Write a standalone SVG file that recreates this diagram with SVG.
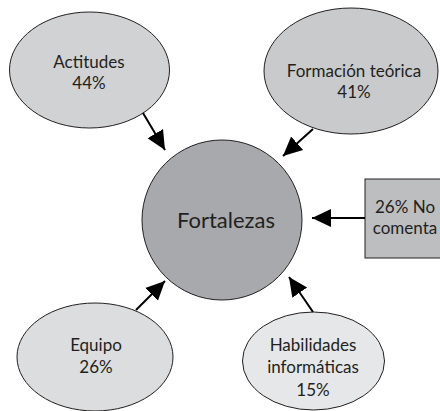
<svg xmlns="http://www.w3.org/2000/svg" width="440" height="411" viewBox="0 0 440 411">
<style>
.n{stroke:#231f20;stroke-width:1}
.t{font-family:Lato,"Open Sans",sans-serif;font-size:17px;fill:#231f20;text-anchor:middle}
.c{stroke:#000;stroke-width:2;fill:none}
</style>
<defs>
<marker id="ah" markerUnits="userSpaceOnUse" markerWidth="20" markerHeight="20" viewBox="0 0 20 20" refX="19" refY="10" orient="auto">
<path d="M0,1 L19,10 L0,19 Z" fill="#000"/>
</marker>
</defs>
<g id="actitudes">
<ellipse class="n" cx="89.5" cy="70" rx="80" ry="58" fill="#d1d2d4"/>
<text class="t" x="89" y="68">Actitudes</text>
<text class="t" x="89" y="89">44%</text>
</g>
<g id="formacion">
<ellipse class="n" cx="351" cy="71" rx="87" ry="63" fill="#c9cacc"/>
<text class="t" x="354" y="77">Formación teórica</text>
<text class="t" x="354" y="98">41%</text>
</g>
<g id="fortalezas">
<circle class="n" cx="222" cy="220" r="80" fill="#a7a9ac"/>
<text class="t" x="226" y="228" style="font-size:22px">Fortalezas</text>
</g>
<g id="nocomenta">
<rect class="n" x="365" y="179" width="80" height="79" fill="#bcbec0"/>
<text class="t" x="405" y="213">26% No</text>
<text class="t" x="405" y="234">comenta</text>
</g>
<g id="equipo">
<ellipse class="n" cx="95" cy="357" rx="78" ry="54" fill="#dcdddf"/>
<text class="t" x="96" y="351">Equipo</text>
<text class="t" x="96" y="373">26%</text>
</g>
<g id="habilidades">
<ellipse class="n" cx="313.5" cy="361" rx="71" ry="49" fill="#e6e7e8"/>
<text class="t" x="313" y="351">Habilidades</text>
<text class="t" x="313" y="373">informáticas</text>
<text class="t" x="313" y="396">15%</text>
</g>
<g id="connectors">
<line class="c" x1="143" y1="113" x2="165" y2="150" marker-end="url(#ah)"/>
<line class="c" x1="313" y1="129" x2="283" y2="156" marker-end="url(#ah)"/>
<line class="c" x1="365" y1="218" x2="312" y2="218" marker-end="url(#ah)"/>
<line class="c" x1="136" y1="310" x2="165" y2="281" marker-end="url(#ah)"/>
<line class="c" x1="313" y1="312" x2="289" y2="277" marker-end="url(#ah)"/>
</g>
</svg>
